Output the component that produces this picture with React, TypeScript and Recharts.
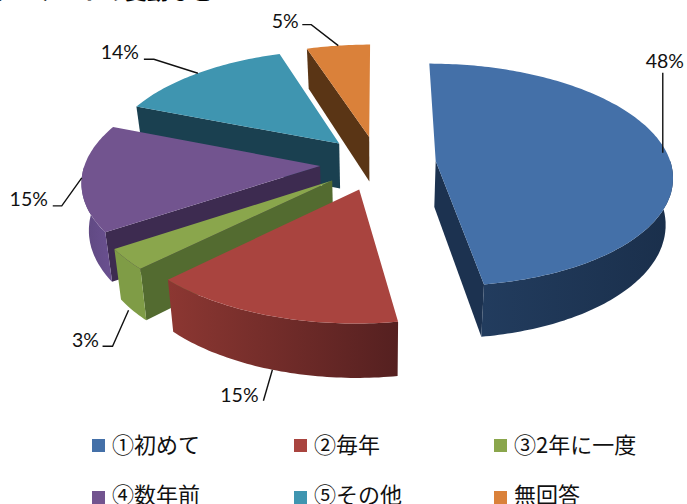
import { Legend, Pie, PieChart } from 'recharts';

// Values, in legend order
const categories = ['①初めて', '②毎年', '③2年に一度', '④数年前', '⑤その他', '無回答'];
const shares = [47.6, 15, 3, 15.4, 14, 5];

// Colours: top face, flat cut wall, outer wall left and right
const topColors = ['#4470A8', '#A9443F', '#8AA64C', '#72548F', '#3F95B0', '#DA813A'];
const cutColors = ['#1C3250', '#5A2222', '#536B30', '#3D2B50', '#1A4050', '#5A3515'];
const rimFrom = ['#223C5E', '#8C3732', '#7F9C46', '#5E4880', '#1A4050', '#5A3515'];
const rimTo = ['#1A2F4B', '#552020', '#7F9C46', '#6A5090', '#1A4050', '#5A3515'];

// Leader lines, relative to where the line leaves the slice
const leaderStart = [[-4, 0], [0, 0], [-4, 0], [0, 0], [0, 0], [0, 0]];
const leaderBends = [
  [[-4, -80]],
  [[-9, 31]],
  [[-20, 36], [-30, 36]],
  [[-20, 28], [-29, 28]],
  [[-44, -14], [-54, -14]],
  [[-27, -21], [-36, -21]],
];
const labelShift = [
  [-2, -92],
  [-33, 25],
  [-47, 29],
  [-53, 21],
  [-78, -22],
  [-53, -25],
];

const legendX = [92, 294, 494];
const legendBoxY = [439, 491];
const legendTextY = [443, 493];

// Back to front, so that nearer slices paint over farther ones
const rows = categories
  .map((name, i) => ({
    name,
    value: shares[i],
    order: i,
    fill: topColors[i],
    cut: cutColors[i],
    from: rimFrom[i],
    to: rimTo[i],
  }))
  .reverse();

const CX = 378;
const CY = 163;
const RADIUS = 235;
const EXPLODE = 58;
const SQUASH = 0.468;
const PERSPECTIVE = 0.125;
const DEPTH = 46;
const SHRINK = 0.025;

const rad = (d: number) => (d * Math.PI) / 180;

// Ground plane (x, v) with v towards the viewer, z going down the wall
const project = (cx: number, cy: number, r: number, x: number, v: number, z: number) => {
  const s = 1 / (1 - (PERSPECTIVE * v) / r);
  return [cx + x * s * (1 - SHRINK * z), cy + SQUASH * v * s + DEPTH * z * s];
};

const toPath = (pts: number[][]) =>
  pts.map((p, i) => `${i ? 'L' : 'M'}${p[0].toFixed(1)} ${p[1].toFixed(1)}`).join(' ') + ' Z';

const Slice3D = (props: any) => {
  const { cx, cy, outerRadius: r, startAngle, endAngle, midAngle, payload } = props;
  const lo = Math.min(startAngle, endAngle);
  const hi = Math.max(startAngle, endAngle);
  const ox = EXPLODE * Math.cos(rad(midAngle));
  const ov = -EXPLODE * Math.sin(rad(midAngle));
  const rim = (a: number, z: number) =>
    project(cx, cy, r, ox + r * Math.cos(rad(a)), ov - r * Math.sin(rad(a)), z);
  const apex = (z: number) => project(cx, cy, r, ox, ov, z);

  const arc = (from: number, to: number, z: number) => {
    const pts: number[][] = [];
    for (let a = from; a < to; a += 1) pts.push(rim(a, z));
    pts.push(rim(to, z));
    return pts;
  };

  const wallLo = Math.max(lo, 180);
  const wallHi = Math.min(hi, 360);
  const gradId = `rim-${payload.order}`;

  return (
    <g>
      <defs>
        <linearGradient id={gradId} x1="0" y1="0" x2="1" y2="0">
          <stop offset="0%" stopColor={payload.from} />
          <stop offset="100%" stopColor={payload.to} />
        </linearGradient>
      </defs>
      {Math.cos(rad(hi)) < -1e-6 && (
        <path d={toPath([apex(0), rim(hi, 0), rim(hi, 1), apex(1)])} fill={payload.cut} />
      )}
      {Math.cos(rad(lo)) > 1e-6 && (
        <path d={toPath([apex(0), rim(lo, 0), rim(lo, 1), apex(1)])} fill={payload.cut} />
      )}
      {wallLo < wallHi && (
        <path
          d={toPath([...arc(wallLo, wallHi, 0), ...arc(wallLo, wallHi, 1).reverse()])}
          fill={`url(#${gradId})`}
        />
      )}
      <path d={toPath([apex(0), ...arc(lo, hi, 0)])} fill={payload.fill} />
    </g>
  );
};

const SliceLabel = (props: any) => {
  const { cx, cy, outerRadius: r, midAngle, percent, payload } = props;
  const c = Math.cos(rad(midAngle));
  const sn = Math.sin(rad(midAngle));
  const z = -sn > 0.5 ? 1 : 0;
  const [ax, ay] = project(cx, cy, r, (EXPLODE + r) * c, -(EXPLODE + r) * sn, z);
  const start = leaderStart[payload.order];
  const pts = [
    [ax + start[0], ay + start[1]],
    ...leaderBends[payload.order].map((b) => [ax + b[0], ay + b[1]]),
  ];
  const shift = labelShift[payload.order];
  return (
    <g>
      <polyline
        points={pts.map((p) => p.join(',')).join(' ')}
        fill="none"
        stroke="#111"
        strokeWidth={1.4}
      />
      <text
        x={ax + shift[0]}
        y={ay + shift[1]}
        textAnchor="middle"
        dominantBaseline="central"
        fontFamily="Lato, sans-serif"
        fontSize={19.5}
        fill="#111"
      >
        {`${Math.round(percent * 100)}%`}
      </text>
    </g>
  );
};

const ChartLegend = () => (
  <div style={{ position: 'relative', width: 687, height: 74, overflow: 'hidden' }}>
    {categories.map((name, i) => {
      const x = legendX[i % 3];
      const row = Math.floor(i / 3);
      return (
        <div key={name}>
          <div
            style={{
              position: 'absolute',
              left: x,
              top: legendBoxY[row] - 430,
              width: 12.5,
              height: 12.5,
              background: topColors[i],
            }}
          />
          <div
            style={{
              position: 'absolute',
              left: x + 20,
              top: legendTextY[row] - 430 - 15,
              lineHeight: '30px',
              whiteSpace: 'nowrap',
              fontFamily: "'Noto Sans CJK JP', sans-serif",
              fontSize: 22,
              color: '#111',
            }}
          >
            {name}
          </div>
        </div>
      );
    })}
  </div>
);

export default function App() {
  return (
    <div style={{ position: 'absolute', left: 0, top: 0, width: 687, height: 504, overflow: 'hidden' }}>
      <PieChart width={687} height={504} margin={{ top: 0, right: 0, bottom: 0, left: 0 }}>
        <text
          x={-6}
          y={-1}
          fontFamily="'Noto Sans CJK JP', sans-serif"
          fontWeight="bold"
          fontSize={22}
          fill="#000"
        >
          アンケートの変動など
        </text>
        <Pie
          data={rows}
          dataKey="value"
          nameKey="name"
          cx={CX}
          cy={CY}
          innerRadius={0}
          outerRadius={RADIUS}
          startAngle={90}
          endAngle={450}
          stroke="none"
          shape={Slice3D}
          label={SliceLabel}
          labelLine={false}
          isAnimationActive={false}
        />
        <Legend
          content={ChartLegend}
          wrapperStyle={{ position: 'absolute', left: 0, top: 430, width: 687, height: 74 }}
        />
      </PieChart>
    </div>
  );
}
